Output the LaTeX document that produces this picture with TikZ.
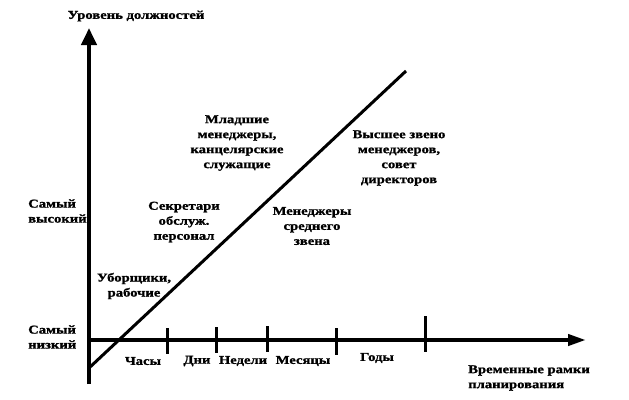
\documentclass[tikz,border=0pt]{standalone}
\usepackage{fontspec}
\setmainfont{Liberation Serif}[FakeStretch=1.22,BoldFeatures={FakeBold=1.2}]
\usetikzlibrary{arrows.meta}
\begin{document}
\begin{tikzpicture}[x=1pt,y=-1pt,
  lbl/.style={font=\fontsize{12}{15}\selectfont\bfseries,inner sep=0pt,align=center},
  lbll/.style={lbl,align=left},
  axis/.style={line width=4pt},
  tick/.style={line width=3pt},
  diag/.style={line width=3pt}]
\useasboundingbox (0,0) rectangle (629,399);
% axes
\coordinate (vb) at (89,384);
\coordinate (vt) at (89,28);
\coordinate (hl) at (87,340);
\coordinate (hr) at (586,340);
\draw[axis,-{Triangle[width=15pt,length=17pt]}] (vb) -- (vt);
\draw[axis,-{Triangle[width=11pt,length=18pt]}] (hl) -- (hr);
% diagonal
\coordinate (d1) at (89,368);
\coordinate (d2) at (406,71);
\draw[diag] (d1) -- (d2);
% ticks
\foreach \n/\x/\a/\b in {t1/167/328/354, t2/216/327/353, t3/267/326/352, t4/336/328/355, t5/425/316/352}{
  \coordinate (\n a) at (\x,\a);
  \coordinate (\n b) at (\x,\b);
  \draw[tick] (\n a) -- (\n b);
}
% labels
\node[lbl] (title) at (136,16) {Уровень должностей};
\node[lbll,anchor=west] (high) at (28,211) {Самый\\высокий};
\node[lbll,anchor=west] (low) at (28,337) {Самый\\низкий};
\node[lbl] (clean) at (134,286) {Уборщики,\\рабочие};
\node[lbl] (secr) at (184,222) {Секретари\\обслуж.\\персонал};
\node[lbl] (junior) at (237,143) {Младшие\\менеджеры,\\канцелярские\\служащие};
\node[lbl] (middle) at (312,226) {Менеджеры\\среднего\\звена};
\node[lbl] (top) at (399,158) {Высшее звено\\менеджеров,\\совет\\директоров};
\node[lbl] (hours) at (143,361) {Часы};
\node[lbl] (days) at (197,361) {Дни};
\node[lbl] (weeks) at (243,361) {Недели};
\node[lbl] (months) at (303,361) {Месяцы};
\node[lbl] (years) at (377,358) {Годы};
\node[lbll,anchor=west] (frame) at (468,378) {Временные рамки\\планирования};
\end{tikzpicture}
\end{document}
